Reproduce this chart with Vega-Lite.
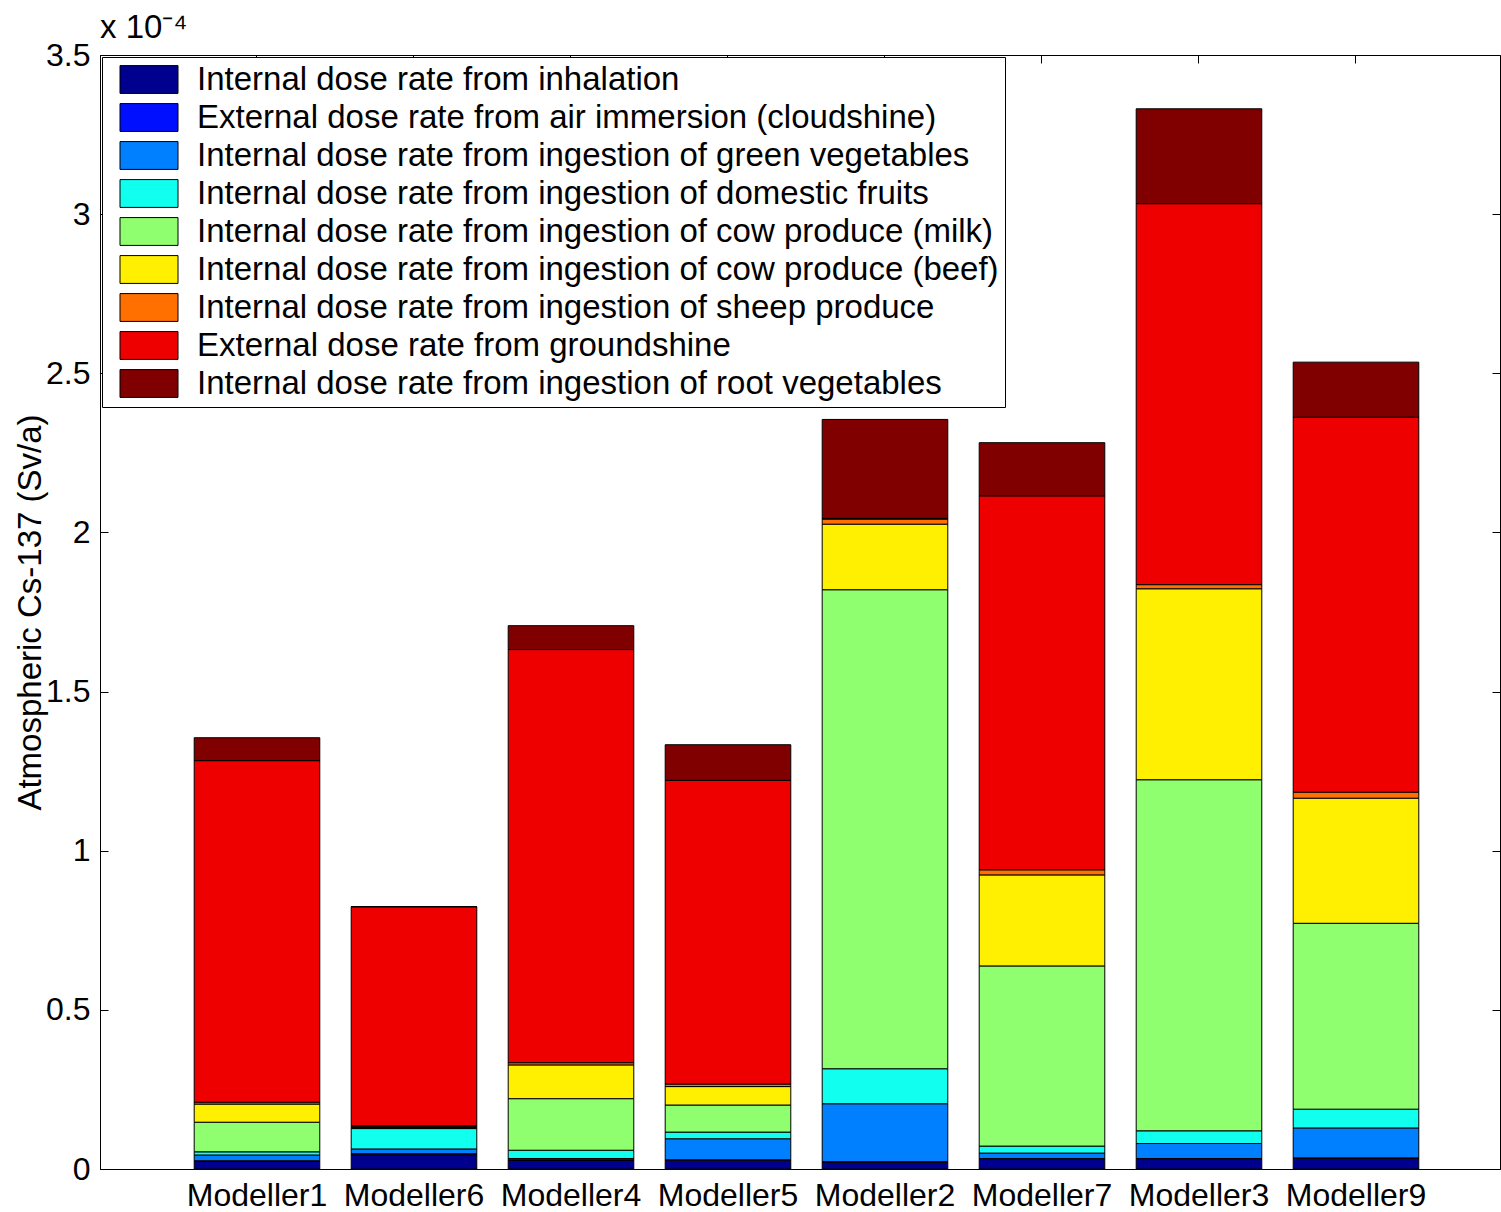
{
  "$schema": "https://vega.github.io/schema/vega-lite/v6.json",
  "width": 1400,
  "height": 1114,
  "autosize": {"type": "none"},
  "padding": {"left": 100, "top": 55, "right": 1, "bottom": 43},
  "background": "white",
  "title": {"text": "x 10⁻⁴", "anchor": "start", "frame": "group", "font": "Liberation Sans", "fontSize": 33, "fontWeight": "normal", "color": "black", "offset": 0, "dy": 6},
  "config": {
    "view": {"stroke": "black"},
    "axis": {"labelFont": "Liberation Sans", "titleFont": "Liberation Sans", "labelColor": "black", "titleColor": "black", "domainColor": "black", "tickColor": "black", "grid": false}
  },
  "data": {"values": [
    {"modeller": "Modeller1", "k": 1, "pathway": "Internal dose rate from inhalation", "dose": 2.4e-6},
    {"modeller": "Modeller1", "k": 2, "pathway": "External dose rate from air immersion (cloudshine)", "dose": 2e-7},
    {"modeller": "Modeller1", "k": 3, "pathway": "Internal dose rate from ingestion of green vegetables", "dose": 1.8e-6},
    {"modeller": "Modeller1", "k": 4, "pathway": "Internal dose rate from ingestion of domestic fruits", "dose": 1.0e-6},
    {"modeller": "Modeller1", "k": 5, "pathway": "Internal dose rate from ingestion of cow produce (milk)", "dose": 9.3e-6},
    {"modeller": "Modeller1", "k": 6, "pathway": "Internal dose rate from ingestion of cow produce (beef)", "dose": 5.7e-6},
    {"modeller": "Modeller1", "k": 7, "pathway": "Internal dose rate from ingestion of sheep produce", "dose": 6e-7},
    {"modeller": "Modeller1", "k": 8, "pathway": "External dose rate from groundshine", "dose": 1.073e-4},
    {"modeller": "Modeller1", "k": 9, "pathway": "Internal dose rate from ingestion of root vegetables", "dose": 7.2e-6},

    {"modeller": "Modeller6", "k": 1, "pathway": "Internal dose rate from inhalation", "dose": 4.5e-6},
    {"modeller": "Modeller6", "k": 2, "pathway": "External dose rate from air immersion (cloudshine)", "dose": 3e-7},
    {"modeller": "Modeller6", "k": 3, "pathway": "Internal dose rate from ingestion of green vegetables", "dose": 1.5e-6},
    {"modeller": "Modeller6", "k": 4, "pathway": "Internal dose rate from ingestion of domestic fruits", "dose": 6.4e-6},
    {"modeller": "Modeller6", "k": 5, "pathway": "Internal dose rate from ingestion of cow produce (milk)", "dose": 3e-7},
    {"modeller": "Modeller6", "k": 6, "pathway": "Internal dose rate from ingestion of cow produce (beef)", "dose": 3e-7},
    {"modeller": "Modeller6", "k": 7, "pathway": "Internal dose rate from ingestion of sheep produce", "dose": 3e-7},
    {"modeller": "Modeller6", "k": 8, "pathway": "External dose rate from groundshine", "dose": 6.88e-5},
    {"modeller": "Modeller6", "k": 9, "pathway": "Internal dose rate from ingestion of root vegetables", "dose": 0},

    {"modeller": "Modeller4", "k": 1, "pathway": "Internal dose rate from inhalation", "dose": 2.7e-6},
    {"modeller": "Modeller4", "k": 2, "pathway": "External dose rate from air immersion (cloudshine)", "dose": 2e-7},
    {"modeller": "Modeller4", "k": 3, "pathway": "Internal dose rate from ingestion of green vegetables", "dose": 4e-7},
    {"modeller": "Modeller4", "k": 4, "pathway": "Internal dose rate from ingestion of domestic fruits", "dose": 2.6e-6},
    {"modeller": "Modeller4", "k": 5, "pathway": "Internal dose rate from ingestion of cow produce (milk)", "dose": 1.62e-5},
    {"modeller": "Modeller4", "k": 6, "pathway": "Internal dose rate from ingestion of cow produce (beef)", "dose": 1.06e-5},
    {"modeller": "Modeller4", "k": 7, "pathway": "Internal dose rate from ingestion of sheep produce", "dose": 7e-7},
    {"modeller": "Modeller4", "k": 8, "pathway": "External dose rate from groundshine", "dose": 1.298e-4},
    {"modeller": "Modeller4", "k": 9, "pathway": "Internal dose rate from ingestion of root vegetables", "dose": 7.5e-6},

    {"modeller": "Modeller5", "k": 1, "pathway": "Internal dose rate from inhalation", "dose": 2.7e-6},
    {"modeller": "Modeller5", "k": 2, "pathway": "External dose rate from air immersion (cloudshine)", "dose": 2e-7},
    {"modeller": "Modeller5", "k": 3, "pathway": "Internal dose rate from ingestion of green vegetables", "dose": 6.6e-6},
    {"modeller": "Modeller5", "k": 4, "pathway": "Internal dose rate from ingestion of domestic fruits", "dose": 2.1e-6},
    {"modeller": "Modeller5", "k": 5, "pathway": "Internal dose rate from ingestion of cow produce (milk)", "dose": 8.5e-6},
    {"modeller": "Modeller5", "k": 6, "pathway": "Internal dose rate from ingestion of cow produce (beef)", "dose": 5.8e-6},
    {"modeller": "Modeller5", "k": 7, "pathway": "Internal dose rate from ingestion of sheep produce", "dose": 8e-7},
    {"modeller": "Modeller5", "k": 8, "pathway": "External dose rate from groundshine", "dose": 9.54e-5},
    {"modeller": "Modeller5", "k": 9, "pathway": "Internal dose rate from ingestion of root vegetables", "dose": 1.12e-5},

    {"modeller": "Modeller2", "k": 1, "pathway": "Internal dose rate from inhalation", "dose": 2.1e-6},
    {"modeller": "Modeller2", "k": 2, "pathway": "External dose rate from air immersion (cloudshine)", "dose": 2e-7},
    {"modeller": "Modeller2", "k": 3, "pathway": "Internal dose rate from ingestion of green vegetables", "dose": 1.82e-5},
    {"modeller": "Modeller2", "k": 4, "pathway": "Internal dose rate from ingestion of domestic fruits", "dose": 1.10e-5},
    {"modeller": "Modeller2", "k": 5, "pathway": "Internal dose rate from ingestion of cow produce (milk)", "dose": 1.505e-4},
    {"modeller": "Modeller2", "k": 6, "pathway": "Internal dose rate from ingestion of cow produce (beef)", "dose": 2.06e-5},
    {"modeller": "Modeller2", "k": 7, "pathway": "Internal dose rate from ingestion of sheep produce", "dose": 1.6e-6},
    {"modeller": "Modeller2", "k": 8, "pathway": "External dose rate from groundshine", "dose": 2e-7},
    {"modeller": "Modeller2", "k": 9, "pathway": "Internal dose rate from ingestion of root vegetables", "dose": 3.11e-5},

    {"modeller": "Modeller7", "k": 1, "pathway": "Internal dose rate from inhalation", "dose": 3.1e-6},
    {"modeller": "Modeller7", "k": 2, "pathway": "External dose rate from air immersion (cloudshine)", "dose": 2e-7},
    {"modeller": "Modeller7", "k": 3, "pathway": "Internal dose rate from ingestion of green vegetables", "dose": 1.7e-6},
    {"modeller": "Modeller7", "k": 4, "pathway": "Internal dose rate from ingestion of domestic fruits", "dose": 2.2e-6},
    {"modeller": "Modeller7", "k": 5, "pathway": "Internal dose rate from ingestion of cow produce (milk)", "dose": 5.66e-5},
    {"modeller": "Modeller7", "k": 6, "pathway": "Internal dose rate from ingestion of cow produce (beef)", "dose": 2.86e-5},
    {"modeller": "Modeller7", "k": 7, "pathway": "Internal dose rate from ingestion of sheep produce", "dose": 1.6e-6},
    {"modeller": "Modeller7", "k": 8, "pathway": "External dose rate from groundshine", "dose": 1.175e-4},
    {"modeller": "Modeller7", "k": 9, "pathway": "Internal dose rate from ingestion of root vegetables", "dose": 1.67e-5},

    {"modeller": "Modeller3", "k": 1, "pathway": "Internal dose rate from inhalation", "dose": 3.1e-6},
    {"modeller": "Modeller3", "k": 2, "pathway": "External dose rate from air immersion (cloudshine)", "dose": 2e-7},
    {"modeller": "Modeller3", "k": 3, "pathway": "Internal dose rate from ingestion of green vegetables", "dose": 4.7e-6},
    {"modeller": "Modeller3", "k": 4, "pathway": "Internal dose rate from ingestion of domestic fruits", "dose": 4.0e-6},
    {"modeller": "Modeller3", "k": 5, "pathway": "Internal dose rate from ingestion of cow produce (milk)", "dose": 1.103e-4},
    {"modeller": "Modeller3", "k": 6, "pathway": "Internal dose rate from ingestion of cow produce (beef)", "dose": 6.00e-5},
    {"modeller": "Modeller3", "k": 7, "pathway": "Internal dose rate from ingestion of sheep produce", "dose": 1.3e-6},
    {"modeller": "Modeller3", "k": 8, "pathway": "External dose rate from groundshine", "dose": 1.197e-4},
    {"modeller": "Modeller3", "k": 9, "pathway": "Internal dose rate from ingestion of root vegetables", "dose": 2.98e-5},

    {"modeller": "Modeller9", "k": 1, "pathway": "Internal dose rate from inhalation", "dose": 3.3e-6},
    {"modeller": "Modeller9", "k": 2, "pathway": "External dose rate from air immersion (cloudshine)", "dose": 2e-7},
    {"modeller": "Modeller9", "k": 3, "pathway": "Internal dose rate from ingestion of green vegetables", "dose": 9.4e-6},
    {"modeller": "Modeller9", "k": 4, "pathway": "Internal dose rate from ingestion of domestic fruits", "dose": 5.9e-6},
    {"modeller": "Modeller9", "k": 5, "pathway": "Internal dose rate from ingestion of cow produce (milk)", "dose": 5.84e-5},
    {"modeller": "Modeller9", "k": 6, "pathway": "Internal dose rate from ingestion of cow produce (beef)", "dose": 3.93e-5},
    {"modeller": "Modeller9", "k": 7, "pathway": "Internal dose rate from ingestion of sheep produce", "dose": 1.9e-6},
    {"modeller": "Modeller9", "k": 8, "pathway": "External dose rate from groundshine", "dose": 1.178e-4},
    {"modeller": "Modeller9", "k": 9, "pathway": "Internal dose rate from ingestion of root vegetables", "dose": 1.73e-5}
  ]},
  "layer": [
    {
      "mark": {"type": "bar", "stroke": "black", "strokeWidth": 1},
      "encoding": {
        "x": {
          "field": "modeller", "type": "nominal",
          "sort": ["Modeller1", "Modeller6", "Modeller4", "Modeller5", "Modeller2", "Modeller7", "Modeller3", "Modeller9"],
          "scale": {"paddingInner": 0.2, "paddingOuter": 0.5586, "align": 0.537},
          "axis": {"title": null, "labelAngle": 0, "labelFontSize": 32, "labelPadding": 11, "ticks": false, "domain": true}
        },
        "y": {
          "field": "dose", "type": "quantitative", "stack": "zero",
          "scale": {"domain": [0, 0.00035], "nice": false},
          "axis": {
            "title": "Atmospheric Cs-137 (Sv/a)", "titleFontSize": 33, "titleFontWeight": "normal", "titlePadding": -2,
            "values": [0, 0.00005, 0.0001, 0.00015, 0.0002, 0.00025, 0.0003, 0.00035],
            "labelExpr": "format(datum.value * 10000, '.1~f')",
            "labelFontSize": 32, "labelPadding": 18, "tickSize": -8, "domain": true
          }
        },
        "color": {
          "field": "pathway", "type": "nominal",
          "scale": {
            "domain": [
              "Internal dose rate from inhalation",
              "External dose rate from air immersion (cloudshine)",
              "Internal dose rate from ingestion of green vegetables",
              "Internal dose rate from ingestion of domestic fruits",
              "Internal dose rate from ingestion of cow produce (milk)",
              "Internal dose rate from ingestion of cow produce (beef)",
              "Internal dose rate from ingestion of sheep produce",
              "External dose rate from groundshine",
              "Internal dose rate from ingestion of root vegetables"
            ],
            "range": ["#00008F", "#0010FF", "#0080FF", "#10FFEF", "#8FFF6F", "#FFEF00", "#FF7000", "#EF0000", "#800000"]
          },
          "legend": {
            "title": null, "orient": "top-left", "offset": 2, "padding": 6,
            "fillColor": "white", "strokeColor": "black",
            "labelFont": "Liberation Sans", "labelFontSize": 33, "labelColor": "black", "labelLimit": 1200, "labelOffset": 56,
            "symbolType": "M-0.31,-0.96H3.69V0.96H-0.31Z", "symbolSize": 841, "symbolStrokeColor": "black", "symbolStrokeWidth": 1,
            "rowPadding": 4
          }
        },
        "order": {"field": "k", "type": "quantitative"}
      }
    },
    {
      "mark": {"type": "bar", "opacity": 0},
      "encoding": {
        "x": {
          "field": "modeller", "type": "nominal",
          "sort": ["Modeller1", "Modeller6", "Modeller4", "Modeller5", "Modeller2", "Modeller7", "Modeller3", "Modeller9"],
          "axis": {"orient": "top", "title": null, "labels": false, "tickSize": -8, "domain": false}
        },
        "y": {
          "field": "dose", "type": "quantitative", "stack": "zero",
          "axis": {"orient": "right", "title": null, "labels": false, "tickSize": -8, "domain": false,
                   "values": [0, 0.00005, 0.0001, 0.00015, 0.0002, 0.00025, 0.0003, 0.00035]}
        }
      }
    }
  ],
  "resolve": {"axis": {"x": "independent", "y": "independent"}}
}
